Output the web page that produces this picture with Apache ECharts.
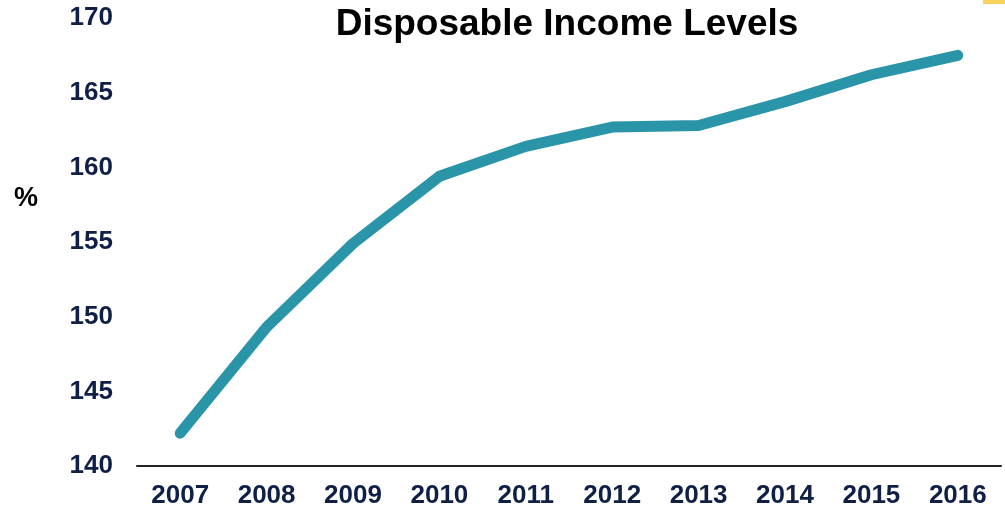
<!DOCTYPE html>
<html>
<head>
<meta charset="utf-8">
<script src="https://cdn.jsdelivr.net/npm/echarts@6/dist/echarts.min.js"></script>
<style>
html,body{margin:0;padding:0;background:#fff;}
#chart{width:1005px;height:512px;}
</style>
</head>
<body>
<div id="chart"></div>
<script>
var categories = ['2007','2008','2009','2010','2011','2012','2013','2014','2015','2016'];
var incomeLevels = [142.2, 149.3, 154.9, 159.4, 161.4, 162.7, 162.8, 164.4, 166.2, 167.5];
var chartTitle = 'Disposable Income Levels';
var yAxisName = '%';

var chart = echarts.init(document.getElementById('chart'));
var navy = '#0f1f45';
chart.setOption({
  animation: false,
  title: {
    text: chartTitle,
    left: 562, top: 1, textAlign: 'center',
    textStyle: {fontFamily: 'Liberation Sans, Arial', fontWeight: 'bold', fontSize: 37, color: '#000'}
  },
  graphic: [
    {type: 'rect', shape: {x: 983, y: 0, width: 22, height: 4}, style: {fill: '#F8D45C'}},
    {type: 'text', left: 14, top: 185, style: {text: yAxisName, font: 'bold 27px Liberation Sans, Arial', fill: '#000'}}
  ],
  grid: {left: 137, right: 4, top: 18, bottom: 46, containLabel: false},
  xAxis: {
    type: 'category',
    data: categories,
    boundaryGap: true,
    axisLine: {lineStyle: {color: '#222', width: 2}},
    axisTick: {show: false},
    axisLabel: {margin: 17, fontFamily: 'Liberation Sans, Arial', fontWeight: 'bold', fontSize: 26, color: navy}
  },
  yAxis: {
    type: 'value',
    min: 140, max: 170, interval: 5,
    axisLine: {show: false},
    axisTick: {show: false},
    splitLine: {show: false},
    axisLabel: {margin: 24, fontFamily: 'Liberation Sans, Arial', fontWeight: 'bold', fontSize: 26, color: navy}
  },
  series: [{
    type: 'line',
    data: incomeLevels,
    symbol: 'none',
    lineStyle: {color: '#2A95A8', width: 11, cap: 'round', join: 'round'}
  }]
});
</script>
</body>
</html>
